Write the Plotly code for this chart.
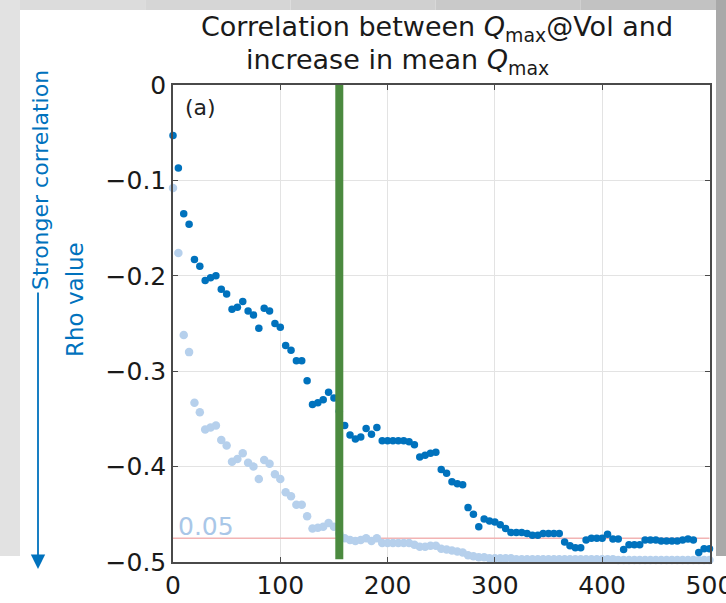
import plotly.graph_objects as go

# ---------------- data ----------------
window = list(range(0, 505, 5))

rho_strong = [
    -0.053, -0.087, -0.135, -0.146, -0.183, -0.190, -0.205, -0.202, -0.200, -0.214,
    -0.219, -0.235, -0.233, -0.227, -0.237, -0.241, -0.255, -0.234, -0.237, -0.250,
    -0.254, -0.273, -0.278, -0.289, -0.289, -0.310, -0.335, -0.333, -0.330, -0.322,
    -0.328, -0.342, -0.357, -0.367, -0.371, -0.369, -0.360, -0.366, -0.359, -0.373,
    -0.373, -0.373, -0.373, -0.373, -0.374, -0.377, -0.390, -0.388, -0.386, -0.385,
    -0.403, -0.407, -0.416, -0.418, -0.419, -0.443, -0.450, -0.463, -0.455, -0.457,
    -0.458, -0.461, -0.465, -0.469, -0.469, -0.469, -0.470, -0.472, -0.472, -0.470,
    -0.470, -0.470, -0.470, -0.479, -0.483, -0.485, -0.485, -0.477, -0.475, -0.475,
    -0.475, -0.471, -0.476, -0.476, -0.487, -0.482, -0.482, -0.482, -0.477, -0.477,
    -0.477, -0.478, -0.478, -0.478, -0.478, -0.477, -0.476, -0.477, -0.490, -0.486,
    -0.486,
]

rho_light = [
    -0.108, -0.176, -0.262, -0.280, -0.333, -0.343, -0.361, -0.359, -0.357, -0.372,
    -0.378, -0.395, -0.392, -0.386, -0.396, -0.400, -0.413, -0.393, -0.397, -0.408,
    -0.413, -0.427, -0.431, -0.440, -0.440, -0.452, -0.465, -0.464, -0.463, -0.459,
    -0.463, -0.470, -0.475, -0.477, -0.478, -0.477, -0.475, -0.478, -0.475, -0.480,
    -0.480, -0.480, -0.480, -0.480, -0.480, -0.482, -0.484, -0.484, -0.483, -0.483,
    -0.486, -0.487, -0.488, -0.489, -0.490, -0.493, -0.494, -0.495, -0.495, -0.496,
    -0.496, -0.496, -0.496, -0.496, -0.497, -0.497, -0.497, -0.497, -0.497, -0.497,
    -0.497, -0.497, -0.497, -0.497, -0.497, -0.497, -0.497, -0.497, -0.497, -0.497,
    -0.497, -0.497, -0.497, -0.498, -0.498, -0.498, -0.498, -0.498, -0.498, -0.498,
    -0.498, -0.498, -0.498, -0.498, -0.498, -0.498, -0.498, -0.498, -0.498, -0.498,
    -0.498,
]

# points of the neighbouring panel peeking in at the right edge
edge_x = [506]
edge_strong = [-0.229]
edge_light = [-0.388]

threshold = -0.475      # p = 0.05 level
threshold_label = "0.05"
marker_window = 155      # green vertical bar

x_ticks = [0, 100, 200, 300, 400, 500]
y_ticks = [0, -0.1, -0.2, -0.3, -0.4, -0.5]

title_line1 = "Correlation between <i>Q</i><sub>max</sub>@Vol and"
title_line2 = "increase in mean <i>Q</i><sub>max</sub>"

# ---------------- layout geometry ----------------
W, H = 726, 603
L, R, T, B = 173, 16, 85, 41
PW, PH = W - L - R, H - T - B


def px(xp):
    return (xp - L) / PW


def py(yp):
    return 1 + (T - yp) / PH


DARK = "rgb(0,114,189)"
LIGHT = "rgb(182,208,236)"
FONT = "DejaVu Sans"

fig = go.Figure()
fig.add_trace(go.Scatter(x=window, y=rho_light, mode="markers",
                         marker=dict(color=LIGHT, size=8.5), cliponaxis=False,
                         showlegend=False))
fig.add_trace(go.Scatter(x=window, y=rho_strong, mode="markers",
                         marker=dict(color=DARK, size=7.5), cliponaxis=False,
                         showlegend=False))
fig.add_trace(go.Scatter(x=edge_x, y=edge_strong, mode="markers",
                         marker=dict(color=DARK, size=7.5), cliponaxis=False,
                         showlegend=False))
fig.add_trace(go.Scatter(x=edge_x, y=edge_light, mode="markers",
                         marker=dict(color=LIGHT, size=8.5), cliponaxis=False,
                         showlegend=False))

shapes = []
# grey screenshot borders
top_cols = ["#dcdcdc", "#d6d6d6", "#d0d0d0", "#c9c9c9", "#c2c2c2"]
seg = W / len(top_cols)
for i, c in enumerate(top_cols):
    shapes.append(dict(type="rect", xref="paper", yref="paper",
                       x0=px(i * seg), x1=px((i + 1) * seg), y0=py(10), y1=py(0),
                       fillcolor=c, line=dict(width=0), layer="below"))
shapes.append(dict(type="rect", xref="paper", yref="paper",
                   x0=px(0), x1=px(20), y0=py(556), y1=py(0),
                   fillcolor="#e2e2e2", line=dict(width=0), layer="below"))
shapes.append(dict(type="rect", xref="paper", yref="paper",
                   x0=px(716), x1=px(W), y0=py(556), y1=py(0),
                   fillcolor="#a9a9a9", line=dict(width=0), layer="below"))
# threshold line
shapes.append(dict(type="line", xref="x", yref="y", x0=0, x1=500, y0=threshold, y1=threshold,
                   line=dict(color="#f2b4b4", width=1.5), layer="between"))
# green marker bar
shapes.append(dict(type="line", xref="x", yref="y", x0=marker_window, x1=marker_window,
                   y0=-0.497, y1=0, line=dict(color="#4b8a3f", width=8), layer="above"))

annotations = [
    dict(text=title_line1, xref="paper", yref="paper", x=px(437), y=py(28),
         xanchor="center", yanchor="middle", showarrow=False,
         font=dict(family=FONT, size=27, color="#1a1a1a")),
    dict(text=title_line2, xref="paper", yref="paper", x=px(397), y=py(61),
         xanchor="center", yanchor="middle", showarrow=False,
         font=dict(family=FONT, size=27, color="#1a1a1a")),
    dict(text="(a)", xref="paper", yref="paper", x=px(183), y=py(107), xanchor="left",
         yanchor="middle", showarrow=False, font=dict(family=FONT, size=22, color="#222")),
    dict(text=threshold_label, xref="paper", yref="paper", x=px(176), y=py(526), xanchor="left",
         yanchor="middle", showarrow=False, font=dict(family=FONT, size=25, color="#a9c7e8")),
    dict(text="Rho value", xref="paper", yref="paper", x=px(75), y=py(300), textangle=-90,
         xanchor="center", yanchor="middle", showarrow=False,
         font=dict(family=FONT, size=23, color=DARK)),
    dict(text="Stronger correlation", xref="paper", yref="paper", x=px(40), y=py(180),
         textangle=-90, xanchor="center", yanchor="middle", showarrow=False,
         font=dict(family=FONT, size=22, color=DARK)),
    dict(text="", xref="paper", yref="paper", x=px(38), y=py(569), ax=0, ay=-(569 - 291),
         axref="pixel", ayref="pixel", showarrow=True, arrowhead=2, arrowsize=1.6,
         arrowwidth=1.8, arrowcolor=DARK),
]

axis_common = dict(showline=True, linecolor="#4a4a4a", linewidth=1.5, mirror="ticks",
                   ticks="inside", ticklen=5, tickcolor="#4a4a4a", showgrid=True,
                   gridcolor="#e3e3e3", gridwidth=1, zeroline=False, automargin=False,
                   ticklabeloverflow="allow",
                   tickfont=dict(family=FONT, size=25, color="#1a1a1a"))

fig.update_layout(
    width=W, height=H,
    margin=dict(l=L, r=R, t=T, b=B, pad=0),
    paper_bgcolor="white", plot_bgcolor="white",
    xaxis=dict(range=[0, 500.5], tickvals=x_ticks, **axis_common),
    yaxis=dict(range=[-0.5, 0], tickvals=y_ticks, **axis_common),
    shapes=shapes, annotations=annotations,
)

fig.write_html("out.html")
